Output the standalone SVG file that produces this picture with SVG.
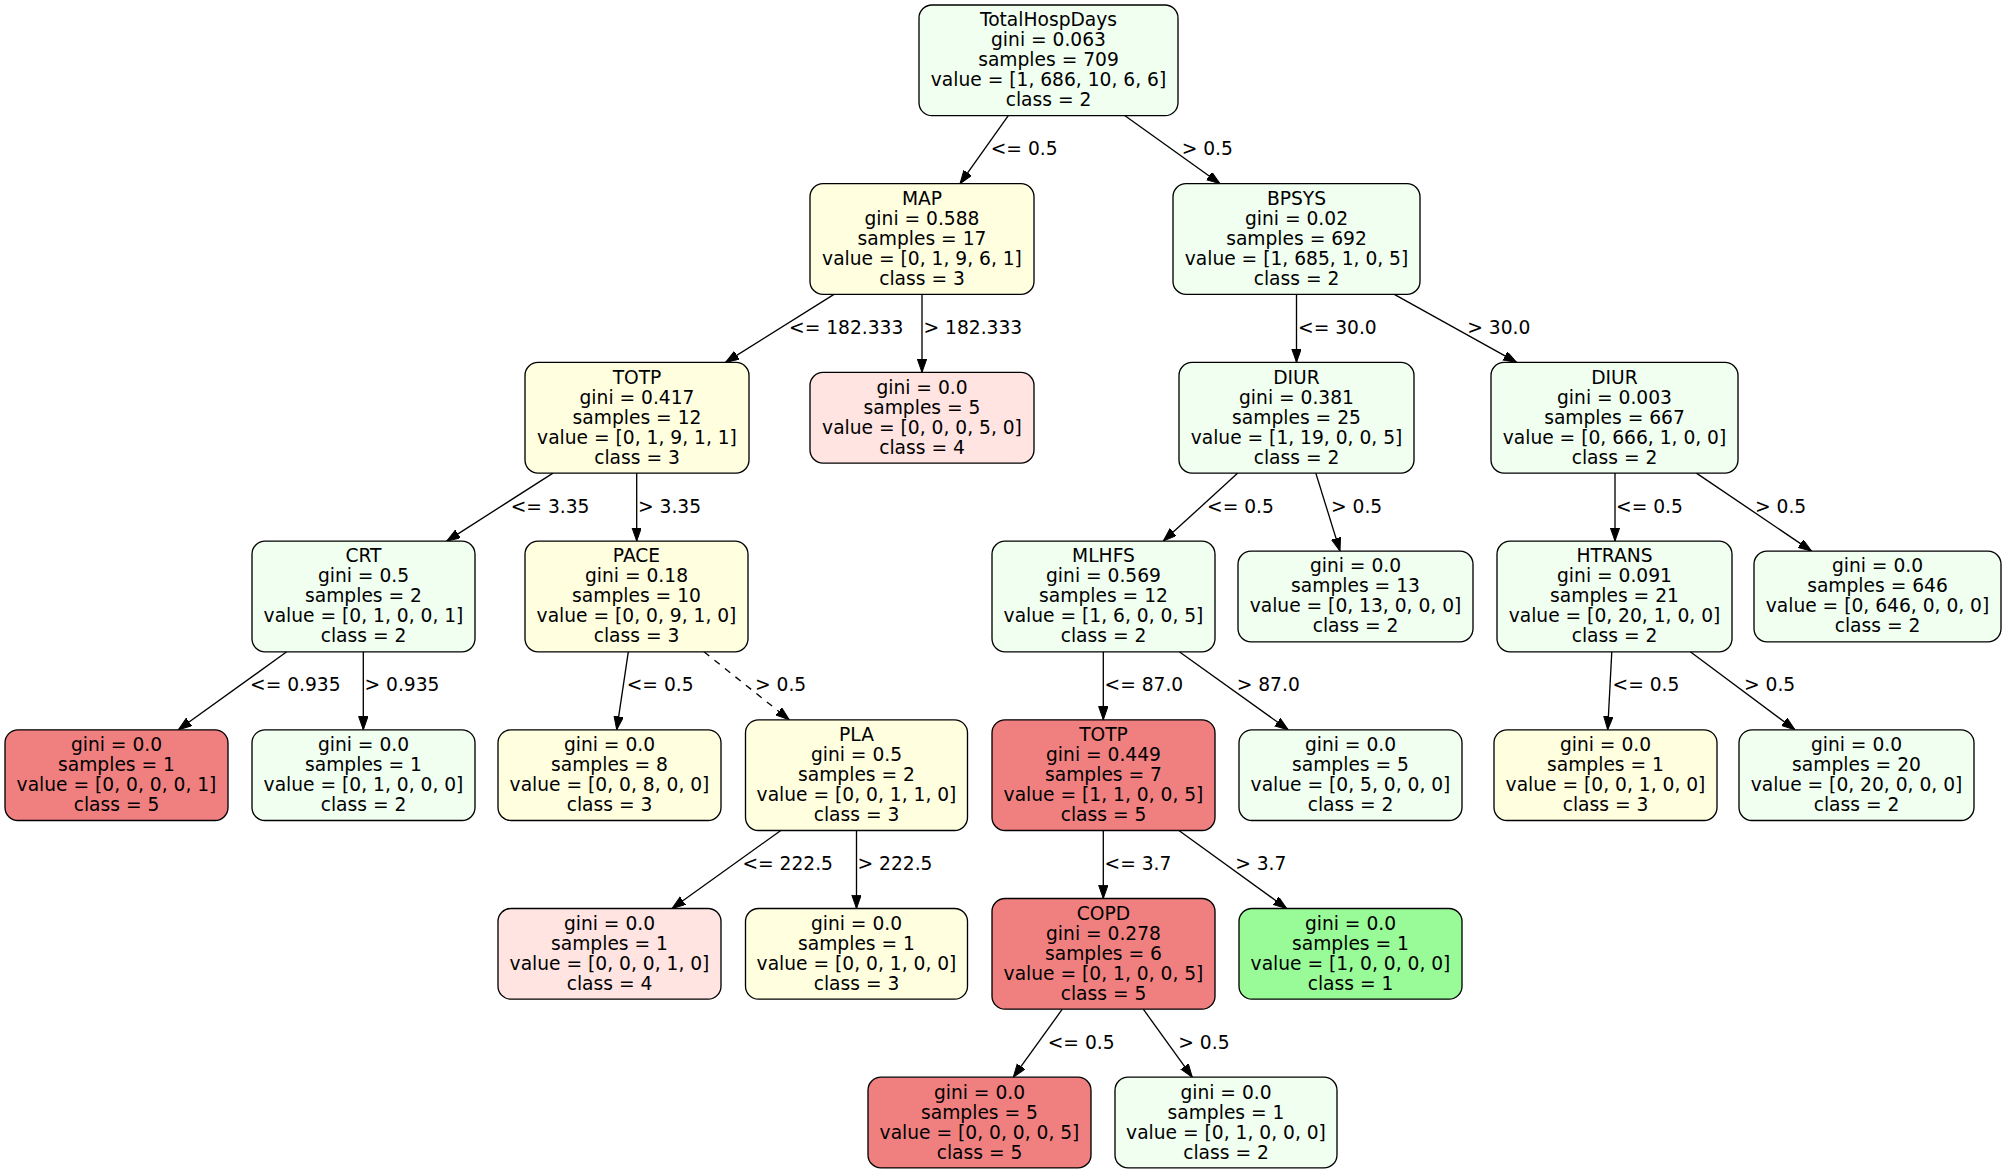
<svg xmlns="http://www.w3.org/2000/svg" width="2007" height="1173" viewBox="0 0 2007 1173">
<style>
text{font-family:"DejaVu Sans","Liberation Sans",sans-serif;font-size:18.67px;fill:#000}
.n text{text-anchor:middle}
.n rect{stroke:#000;stroke-width:1.33}
.c2{fill:#f0fff0}.c3{fill:#ffffe0}.c4{fill:#ffe4e1}.c5{fill:#f08080}.c1{fill:#98fb98}
.e line{stroke:#000;stroke-width:1.33;fill:none}
.d{stroke-dasharray:6.7,6.7}
</style>
<defs>
<marker id="ah" markerUnits="userSpaceOnUse" markerWidth="16" markerHeight="12" refX="13.33" refY="4.67" orient="auto">
<path d="M0,0 L13.33,4.67 L0,9.33 z" fill="#000" stroke="#000" stroke-width="1"/>
</marker>
</defs>
<rect width="2007" height="1173" fill="#fff"/>
<g id="edges" class="e">
<line x1="1008.3" y1="115.7" x2="960" y2="183.7" marker-end="url(#ah)"/>
<line x1="1125" y1="115.7" x2="1220" y2="183.7" marker-end="url(#ah)"/>
<line x1="834" y1="294.4" x2="725.5" y2="362.4" marker-end="url(#ah)"/>
<line x1="922" y1="294.4" x2="922" y2="372.4" marker-end="url(#ah)"/>
<line x1="1296.5" y1="294.4" x2="1296.5" y2="362.4" marker-end="url(#ah)"/>
<line x1="1394.3" y1="294.4" x2="1516.7" y2="362.4" marker-end="url(#ah)"/>
<line x1="553" y1="473.1" x2="446.7" y2="541.1" marker-end="url(#ah)"/>
<line x1="636.7" y1="473.1" x2="636.7" y2="541.1" marker-end="url(#ah)"/>
<line x1="1237.8" y1="473.1" x2="1163.3" y2="541.1" marker-end="url(#ah)"/>
<line x1="1315.8" y1="473.1" x2="1340" y2="551.1" marker-end="url(#ah)"/>
<line x1="1615" y1="473.1" x2="1615" y2="541.1" marker-end="url(#ah)"/>
<line x1="1696.4" y1="473.1" x2="1811.6" y2="551.1" marker-end="url(#ah)"/>
<line x1="286.7" y1="651.8" x2="178.3" y2="729.8" marker-end="url(#ah)"/>
<line x1="363.3" y1="651.8" x2="363.3" y2="729.8" marker-end="url(#ah)"/>
<line x1="628.3" y1="651.8" x2="616.7" y2="729.8" marker-end="url(#ah)"/>
<line class="d" x1="704" y1="651.8" x2="789.3" y2="719.8" marker-end="url(#ah)"/>
<line x1="1103.3" y1="651.8" x2="1103.3" y2="719.8" marker-end="url(#ah)"/>
<line x1="1179.3" y1="651.8" x2="1288.3" y2="729.8" marker-end="url(#ah)"/>
<line x1="1611.8" y1="651.8" x2="1607.7" y2="729.8" marker-end="url(#ah)"/>
<line x1="1690.3" y1="651.8" x2="1795" y2="729.8" marker-end="url(#ah)"/>
<line x1="780.8" y1="830.5" x2="672" y2="908.5" marker-end="url(#ah)"/>
<line x1="856.5" y1="830.5" x2="856.5" y2="908.5" marker-end="url(#ah)"/>
<line x1="1103.3" y1="830.5" x2="1103.3" y2="898.5" marker-end="url(#ah)"/>
<line x1="1178.9" y1="830.5" x2="1286.7" y2="908.5" marker-end="url(#ah)"/>
<line x1="1062.3" y1="1009.2" x2="1013.3" y2="1077.2" marker-end="url(#ah)"/>
<line x1="1143.3" y1="1009.2" x2="1192.3" y2="1077.2" marker-end="url(#ah)"/>
<text x="990.7" y="155">&lt;= 0.5</text>
<text x="1181.7" y="155">&gt; 0.5</text>
<text x="789" y="334">&lt;= 182.333</text>
<text x="923.5" y="334">&gt; 182.333</text>
<text x="1298" y="334">&lt;= 30.0</text>
<text x="1467.3" y="334">&gt; 30.0</text>
<text x="510.7" y="512.5">&lt;= 3.35</text>
<text x="638" y="512.5">&gt; 3.35</text>
<text x="1207" y="512.5">&lt;= 0.5</text>
<text x="1331" y="512.5">&gt; 0.5</text>
<text x="1616" y="512.5">&lt;= 0.5</text>
<text x="1755" y="512.5">&gt; 0.5</text>
<text x="250" y="691.2">&lt;= 0.935</text>
<text x="364.5" y="691.2">&gt; 0.935</text>
<text x="626.7" y="691.2">&lt;= 0.5</text>
<text x="755" y="691.2">&gt; 0.5</text>
<text x="1104.5" y="691.2">&lt;= 87.0</text>
<text x="1236.7" y="691.2">&gt; 87.0</text>
<text x="1612.5" y="691.2">&lt;= 0.5</text>
<text x="1744" y="691.2">&gt; 0.5</text>
<text x="742.4" y="870">&lt;= 222.5</text>
<text x="857.5" y="870">&gt; 222.5</text>
<text x="1104.5" y="870">&lt;= 3.7</text>
<text x="1235.2" y="870">&gt; 3.7</text>
<text x="1047.7" y="1048.6">&lt;= 0.5</text>
<text x="1178.3" y="1048.6">&gt; 0.5</text>
</g>
<g id="n0" class="n"><rect class="c2" x="919" y="5" width="259" height="110.7" rx="13"/><text x="1048.5" y="26.3">TotalHospDays</text><text x="1048.5" y="46.3">gini = 0.063</text><text x="1048.5" y="66.3">samples = 709</text><text x="1048.5" y="86.3">value = [1, 686, 10, 6, 6]</text><text x="1048.5" y="106.3">class = 2</text></g>
<g id="n1" class="n"><rect class="c3" x="810" y="183.7" width="224" height="110.7" rx="13"/><text x="922" y="205">MAP</text><text x="922" y="225">gini = 0.588</text><text x="922" y="245">samples = 17</text><text x="922" y="265">value = [0, 1, 9, 6, 1]</text><text x="922" y="285">class = 3</text></g>
<g id="n2" class="n"><rect class="c2" x="1173" y="183.7" width="247" height="110.7" rx="13"/><text x="1296.5" y="205">BPSYS</text><text x="1296.5" y="225">gini = 0.02</text><text x="1296.5" y="245">samples = 692</text><text x="1296.5" y="265">value = [1, 685, 1, 0, 5]</text><text x="1296.5" y="285">class = 2</text></g>
<g id="n3" class="n"><rect class="c3" x="525" y="362.4" width="224" height="110.7" rx="13"/><text x="637" y="383.7">TOTP</text><text x="637" y="403.7">gini = 0.417</text><text x="637" y="423.7">samples = 12</text><text x="637" y="443.7">value = [0, 1, 9, 1, 1]</text><text x="637" y="463.7">class = 3</text></g>
<g id="n4" class="n"><rect class="c4" x="810" y="372.4" width="224" height="90.7" rx="13"/><text x="922" y="393.7">gini = 0.0</text><text x="922" y="413.7">samples = 5</text><text x="922" y="433.7">value = [0, 0, 0, 5, 0]</text><text x="922" y="453.7">class = 4</text></g>
<g id="n5" class="n"><rect class="c2" x="1179" y="362.4" width="235" height="110.7" rx="13"/><text x="1296.5" y="383.7">DIUR</text><text x="1296.5" y="403.7">gini = 0.381</text><text x="1296.5" y="423.7">samples = 25</text><text x="1296.5" y="443.7">value = [1, 19, 0, 0, 5]</text><text x="1296.5" y="463.7">class = 2</text></g>
<g id="n6" class="n"><rect class="c2" x="1491" y="362.4" width="247" height="110.7" rx="13"/><text x="1614.5" y="383.7">DIUR</text><text x="1614.5" y="403.7">gini = 0.003</text><text x="1614.5" y="423.7">samples = 667</text><text x="1614.5" y="443.7">value = [0, 666, 1, 0, 0]</text><text x="1614.5" y="463.7">class = 2</text></g>
<g id="n7" class="n"><rect class="c2" x="252" y="541.1" width="223" height="110.7" rx="13"/><text x="363.5" y="562.4">CRT</text><text x="363.5" y="582.4">gini = 0.5</text><text x="363.5" y="602.4">samples = 2</text><text x="363.5" y="622.4">value = [0, 1, 0, 0, 1]</text><text x="363.5" y="642.4">class = 2</text></g>
<g id="n8" class="n"><rect class="c3" x="525" y="541.1" width="223" height="110.7" rx="13"/><text x="636.5" y="562.4">PACE</text><text x="636.5" y="582.4">gini = 0.18</text><text x="636.5" y="602.4">samples = 10</text><text x="636.5" y="622.4">value = [0, 0, 9, 1, 0]</text><text x="636.5" y="642.4">class = 3</text></g>
<g id="n9" class="n"><rect class="c2" x="992" y="541.1" width="223" height="110.7" rx="13"/><text x="1103.5" y="562.4">MLHFS</text><text x="1103.5" y="582.4">gini = 0.569</text><text x="1103.5" y="602.4">samples = 12</text><text x="1103.5" y="622.4">value = [1, 6, 0, 0, 5]</text><text x="1103.5" y="642.4">class = 2</text></g>
<g id="n10" class="n"><rect class="c2" x="1238" y="551.1" width="235" height="90.7" rx="13"/><text x="1355.5" y="572.4">gini = 0.0</text><text x="1355.5" y="592.4">samples = 13</text><text x="1355.5" y="612.4">value = [0, 13, 0, 0, 0]</text><text x="1355.5" y="632.4">class = 2</text></g>
<g id="n11" class="n"><rect class="c2" x="1497" y="541.1" width="235" height="110.7" rx="13"/><text x="1614.5" y="562.4">HTRANS</text><text x="1614.5" y="582.4">gini = 0.091</text><text x="1614.5" y="602.4">samples = 21</text><text x="1614.5" y="622.4">value = [0, 20, 1, 0, 0]</text><text x="1614.5" y="642.4">class = 2</text></g>
<g id="n12" class="n"><rect class="c2" x="1754" y="551.1" width="247" height="90.7" rx="13"/><text x="1877.5" y="572.4">gini = 0.0</text><text x="1877.5" y="592.4">samples = 646</text><text x="1877.5" y="612.4">value = [0, 646, 0, 0, 0]</text><text x="1877.5" y="632.4">class = 2</text></g>
<g id="n13" class="n"><rect class="c5" x="5" y="729.8" width="223" height="90.7" rx="13"/><text x="116.5" y="751.1">gini = 0.0</text><text x="116.5" y="771.1">samples = 1</text><text x="116.5" y="791.1">value = [0, 0, 0, 0, 1]</text><text x="116.5" y="811.1">class = 5</text></g>
<g id="n14" class="n"><rect class="c2" x="252" y="729.8" width="223" height="90.7" rx="13"/><text x="363.5" y="751.1">gini = 0.0</text><text x="363.5" y="771.1">samples = 1</text><text x="363.5" y="791.1">value = [0, 1, 0, 0, 0]</text><text x="363.5" y="811.1">class = 2</text></g>
<g id="n15" class="n"><rect class="c3" x="498" y="729.8" width="223" height="90.7" rx="13"/><text x="609.5" y="751.1">gini = 0.0</text><text x="609.5" y="771.1">samples = 8</text><text x="609.5" y="791.1">value = [0, 0, 8, 0, 0]</text><text x="609.5" y="811.1">class = 3</text></g>
<g id="n16" class="n"><rect class="c3" x="745.5" y="719.8" width="222" height="110.7" rx="13"/><text x="856.5" y="741.1">PLA</text><text x="856.5" y="761.1">gini = 0.5</text><text x="856.5" y="781.1">samples = 2</text><text x="856.5" y="801.1">value = [0, 0, 1, 1, 0]</text><text x="856.5" y="821.1">class = 3</text></g>
<g id="n17" class="n"><rect class="c5" x="992" y="719.8" width="223" height="110.7" rx="13"/><text x="1103.5" y="741.1">TOTP</text><text x="1103.5" y="761.1">gini = 0.449</text><text x="1103.5" y="781.1">samples = 7</text><text x="1103.5" y="801.1">value = [1, 1, 0, 0, 5]</text><text x="1103.5" y="821.1">class = 5</text></g>
<g id="n18" class="n"><rect class="c2" x="1239" y="729.8" width="223" height="90.7" rx="13"/><text x="1350.5" y="751.1">gini = 0.0</text><text x="1350.5" y="771.1">samples = 5</text><text x="1350.5" y="791.1">value = [0, 5, 0, 0, 0]</text><text x="1350.5" y="811.1">class = 2</text></g>
<g id="n19" class="n"><rect class="c3" x="1494" y="729.8" width="223" height="90.7" rx="13"/><text x="1605.5" y="751.1">gini = 0.0</text><text x="1605.5" y="771.1">samples = 1</text><text x="1605.5" y="791.1">value = [0, 0, 1, 0, 0]</text><text x="1605.5" y="811.1">class = 3</text></g>
<g id="n20" class="n"><rect class="c2" x="1739" y="729.8" width="235" height="90.7" rx="13"/><text x="1856.5" y="751.1">gini = 0.0</text><text x="1856.5" y="771.1">samples = 20</text><text x="1856.5" y="791.1">value = [0, 20, 0, 0, 0]</text><text x="1856.5" y="811.1">class = 2</text></g>
<g id="n21" class="n"><rect class="c4" x="498" y="908.5" width="223" height="90.7" rx="13"/><text x="609.5" y="929.8">gini = 0.0</text><text x="609.5" y="949.8">samples = 1</text><text x="609.5" y="969.8">value = [0, 0, 0, 1, 0]</text><text x="609.5" y="989.8">class = 4</text></g>
<g id="n22" class="n"><rect class="c3" x="745.5" y="908.5" width="222" height="90.7" rx="13"/><text x="856.5" y="929.8">gini = 0.0</text><text x="856.5" y="949.8">samples = 1</text><text x="856.5" y="969.8">value = [0, 0, 1, 0, 0]</text><text x="856.5" y="989.8">class = 3</text></g>
<g id="n23" class="n"><rect class="c5" x="992" y="898.5" width="223" height="110.7" rx="13"/><text x="1103.5" y="919.8">COPD</text><text x="1103.5" y="939.8">gini = 0.278</text><text x="1103.5" y="959.8">samples = 6</text><text x="1103.5" y="979.8">value = [0, 1, 0, 0, 5]</text><text x="1103.5" y="999.8">class = 5</text></g>
<g id="n24" class="n"><rect class="c1" x="1239" y="908.5" width="223" height="90.7" rx="13"/><text x="1350.5" y="929.8">gini = 0.0</text><text x="1350.5" y="949.8">samples = 1</text><text x="1350.5" y="969.8">value = [1, 0, 0, 0, 0]</text><text x="1350.5" y="989.8">class = 1</text></g>
<g id="n25" class="n"><rect class="c5" x="868" y="1077.2" width="223" height="90.7" rx="13"/><text x="979.5" y="1098.5">gini = 0.0</text><text x="979.5" y="1118.5">samples = 5</text><text x="979.5" y="1138.5">value = [0, 0, 0, 0, 5]</text><text x="979.5" y="1158.5">class = 5</text></g>
<g id="n26" class="n"><rect class="c2" x="1115" y="1077.2" width="222" height="90.7" rx="13"/><text x="1226" y="1098.5">gini = 0.0</text><text x="1226" y="1118.5">samples = 1</text><text x="1226" y="1138.5">value = [0, 1, 0, 0, 0]</text><text x="1226" y="1158.5">class = 2</text></g>
</svg>
